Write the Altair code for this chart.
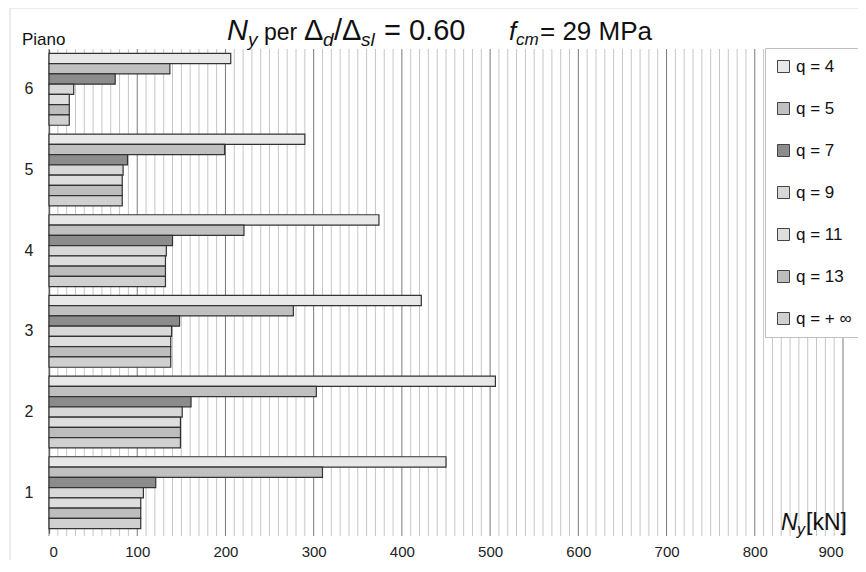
import altair as alt
import pandas as pd

FONT = "Liberation Sans, Arial, sans-serif"

# ---------------- data ----------------
floors = ["6", "5", "4", "3", "2", "1"]
q_labels = ["q = 4", "q = 5", "q = 7", "q = 9", "q = 11", "q = 13", "q = + ∞"]
# values per floor (order: 6,5,4,3,2,1) in kN
q4 = [206, 290, 374, 422, 506, 450]
q5 = [137, 199, 221, 277, 303, 310]
q7 = [75, 89, 140, 148, 161, 121]
q9 = [28, 84, 133, 139, 151, 107]
q11 = [23, 83, 132, 138, 149, 104]
q13 = [23, 83, 132, 138, 149, 104]
qinf = [23, 83, 132, 138, 149, 104]
x_ticks = [0, 100, 200, 300, 400, 500, 600, 700, 800, 900]
minor_ticks = list(range(0, 901, 10))

series = [q4, q5, q7, q9, q11, q13, qinf]
colors = ["#e8e8e8", "#c0c0c0", "#8c8c8c", "#d8d8d8", "#dedede", "#bdbdbd", "#d0d0d0"]

rows = []
for lab, vals in zip(q_labels, series):
    for f, v in zip(floors, vals):
        rows.append({"piano": f, "q": lab, "value": v})
df = pd.DataFrame(rows)

W, H = 794, 484
OX, OY = 49, 49  # plot origin on page

xscale = alt.Scale(domain=[0, 900], nice=False, zero=True)

minor = alt.Chart(pd.DataFrame({"v": [t for t in minor_ticks if t % 100 != 0]})).mark_rule(
    color="#c6c6c6", strokeWidth=1
).encode(x=alt.X("v:Q", scale=xscale), y=alt.value(0), y2=alt.value(H + 3))

major = alt.Chart(pd.DataFrame({"v": x_ticks})).mark_rule(
    color="#7a7a7a", strokeWidth=1
).encode(x=alt.X("v:Q", scale=xscale), y=alt.value(0), y2=alt.value(H + 3))

bars = alt.Chart(df).mark_bar(stroke="#333333", strokeWidth=1.2).encode(
    x=alt.X(
        "value:Q",
        scale=xscale,
        axis=alt.Axis(
            values=x_ticks, grid=False, ticks=False, domain=False, title=None,
            labelFontSize=15, labelFont=FONT, labelColor="#222222", labelPadding=11,
        ),
    ),
    y=alt.Y(
        "piano:N",
        sort=floors,
        scale=alt.Scale(paddingInner=0.11, paddingOuter=0.055),
        axis=alt.Axis(
            title=None, ticks=False, labelFontSize=16, labelFont=FONT, labelColor="#222222",
            labelPadding=16, domainColor="#444444", domainWidth=1.3, labelAngle=0, grid=False,
        ),
    ),
    yOffset=alt.YOffset("q:N", sort=q_labels, scale=alt.Scale(paddingInner=0, paddingOuter=0)),
    fill=alt.Fill(
        "q:N",
        sort=q_labels,
        scale=alt.Scale(domain=q_labels, range=colors),
        legend=alt.Legend(
            title=None, orient="none", legendX=716, legendY=-1, padding=10,
            fillColor="white", strokeColor="#bfbfbf", symbolType="square", symbolSize=144,
            symbolStrokeColor="#444444", symbolStrokeWidth=1, labelFontSize=17, labelFont=FONT,
            labelColor="#111111", rowPadding=24, labelOffset=4, symbolOpacity=1,
        ),
    ),
)

one = pd.DataFrame({"a": [0]})


def txt(s, x, y, size, italic=False):
    return alt.Chart(one).mark_text(
        text=s, align="left", baseline="alphabetic", fontSize=size,
        fontStyle="italic" if italic else "normal", font=FONT, color="#111111",
    ).encode(x=alt.value(x - OX), y=alt.value(y - OY))


texts = [
    txt("N", 227, 40, 29, True),
    txt("y", 248, 46, 19, True),
    txt("per", 264, 40, 23),
    txt("Δ", 304, 40, 29),
    txt("d", 323, 46, 19, True),
    txt("/", 334, 40, 29),
    txt("Δ", 342, 40, 29),
    txt("sl", 361, 46, 19, True),
    txt("= 0.60", 384, 40, 29),
    txt("f", 509, 40, 26, True),
    txt("cm", 516, 45, 17, True),
    txt("= 29 MPa", 540, 40, 26),
    txt("Piano", 22, 45, 17),
    txt("N", 781, 530, 23, True),
    txt("y", 797, 535, 16, True),
    txt("[kN]", 806, 530, 23),
]

border = alt.Chart(one).mark_rect(fillOpacity=0, stroke="#d9d9d9", strokeWidth=1).encode(
    x=alt.value(10 - OX), y=alt.value(8 - OY), x2=alt.value(W + 60), y2=alt.value(569 - OY)
)

chart = alt.layer(border, minor, major, bars, *texts).properties(
    width=W, height=H,
    autosize=alt.AutoSizeParams(type="none"),
    padding={"left": 41, "top": 41, "right": 15, "bottom": 27},
    background="white",
).configure_view(stroke=None)

chart.save("out.html", embed_options={"renderer": "svg", "actions": False})
